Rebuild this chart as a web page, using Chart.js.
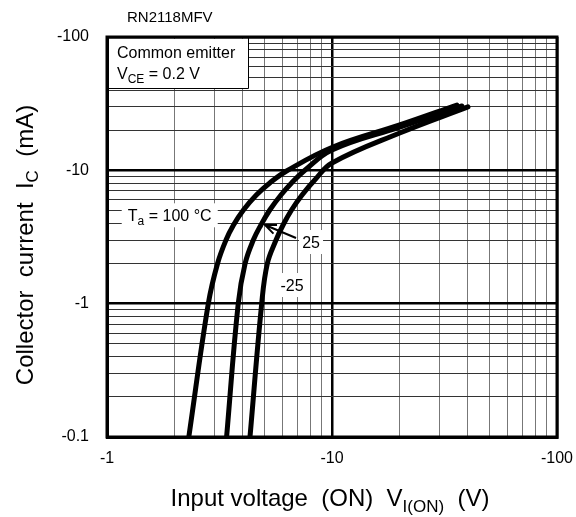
<!DOCTYPE html>
<html>
<head>
<meta charset="utf-8">
<script src="https://cdn.jsdelivr.net/npm/chart.js@4.4.0/dist/chart.umd.min.js"></script>
<style>
  html, body { margin: 0; padding: 0; background: #fff; }
  #wrap { width: 576px; height: 517px; }
</style>
</head>
<body>
<div id="wrap"><canvas id="chart" width="576" height="517"></canvas></div>
<script>
// values: |V_I(ON)| in V, |I_C| in mA (axes are negative)
const ta100V = [2.31, 2.82, 3.10, 3.38, 3.65, 4.04, 4.61, 5.29, 6.28, 10.1, 20, 35.9];
const ta100I = [0.1, 1.0, 2.0, 3.0, 3.89, 5.04, 6.53, 8.04, 9.89, 14.96, 21.9, 30.9];
const ta25V = [3.40, 3.83, 4.11, 4.47, 4.83, 5.29, 5.93, 6.61, 7.51, 10, 20, 37.8];
const ta25I = [0.1, 1.0, 2.0, 3.0, 3.89, 5.04, 6.53, 8.04, 9.89, 14.2, 21.1, 30.4];
const taM25V = [4.32, 4.87, 5.16, 5.64, 6.06, 6.61, 7.36, 8.38, 10, 20, 40.2];
const taM25I = [0.1, 1.0, 2.0, 3.0, 3.89, 5.04, 6.53, 8.46, 11.35, 19.05, 29.9];

const xTicks = [1, 2, 3, 4, 5, 6, 7, 8, 9, 10, 20, 30, 40, 50, 60, 70, 80, 90, 100];
const yTicks = [0.1, 0.2, 0.3, 0.4, 0.5, 0.6, 0.7, 0.8, 0.9, 1, 2, 3, 4, 5, 6, 7, 8, 9, 10, 20, 30, 40, 50, 60, 70, 80, 90, 100];
const xMajor = [1, 10, 100];
const xMajorLabels = ['-1', '-10', '-100'];
const yMajor = [0.1, 1, 10, 100];
const yMajorLabels = ['-0.1', '-1', '-10', '-100'];

const FONT = '"Liberation Sans", Arial, sans-serif';

function pts(xs, ys) {
  return xs.map((x, i) => ({ x: x, y: ys[i] }));
}

function curve(label, xs, ys) {
  return {
    label: label,
    data: pts(xs, ys),
    borderColor: '#000',
    borderWidth: 5,
    borderCapStyle: 'round',
    borderJoinStyle: 'round',
    pointRadius: 0,
    tension: 0.4,
    clip: 0
  };
}

// draw text made of several runs (normal + subscript)
function drawRuns(ctx, runs, x, y, align) {
  let total = 0;
  runs.forEach(r => {
    ctx.font = r.size + 'px ' + FONT;
    r.w = ctx.measureText(r.t).width;
    total += r.w;
  });
  let cx = align === 'center' ? x - total / 2 : x;
  ctx.textAlign = 'left';
  ctx.textBaseline = 'alphabetic';
  ctx.fillStyle = '#000';
  runs.forEach(r => {
    ctx.font = r.size + 'px ' + FONT;
    ctx.fillText(r.t, cx, y + (r.dy || 0));
    cx += r.w;
  });
  return total;
}

const annotations = {
  id: 'annotations',
  afterDatasetsDraw(chart) {
    const ctx = chart.ctx;
    const a = chart.chartArea;
    const xs = chart.scales.x, ys = chart.scales.y;
    ctx.save();

    // frame
    ctx.strokeStyle = '#000';
    ctx.lineWidth = 3;
    ctx.strokeRect(a.left, a.top, a.right - a.left, a.bottom - a.top);

    // condition box
    ctx.fillStyle = '#fff';
    ctx.fillRect(a.left + 2, a.top + 2, 139, 49);
    ctx.lineWidth = 1;
    ctx.beginPath();
    ctx.moveTo(a.left + 141.5, a.top);
    ctx.lineTo(a.left + 141.5, a.top + 51.5);
    ctx.lineTo(a.left, a.top + 51.5);
    ctx.stroke();
    drawRuns(ctx, [{ t: 'Common emitter', size: 16 }], a.left + 10, a.top + 21, 'left');
    drawRuns(ctx, [
      { t: 'V', size: 16 },
      { t: 'CE', size: 12, dy: 4 },
      { t: ' = 0.2 V', size: 16 }
    ], a.left + 10, a.top + 42, 'left');

    // Ta = 100 label
    let px = xs.getPixelForValue(1.9), py = ys.getPixelForValue(4.6);
    ctx.fillStyle = '#fff';
    ctx.fillRect(px - 48, py - 12, 96, 24);
    drawRuns(ctx, [
      { t: 'T', size: 16 },
      { t: 'a', size: 12, dy: 4 },
      { t: ' = 100 \u00B0C', size: 16 }
    ], px, py + 6, 'center');

    // 25 label + arrow
    px = xs.getPixelForValue(8.07); py = ys.getPixelForValue(2.9);
    ctx.fillStyle = '#fff';
    ctx.fillRect(px - 12, py - 12, 24, 24);
    drawRuns(ctx, [{ t: '25', size: 16 }], px, py + 6, 'center');
    const tx = xs.getPixelForValue(6.92), ty = ys.getPixelForValue(3.11);
    const hx = xs.getPixelForValue(5.04), hy = ys.getPixelForValue(3.89);
    ctx.strokeStyle = '#000';
    ctx.lineWidth = 2;
    ctx.beginPath();
    ctx.moveTo(tx, ty);
    ctx.lineTo(hx, hy);
    const ang = Math.atan2(ty - hy, tx - hx);
    ctx.moveTo(hx + 12 * Math.cos(ang + 0.4), hy + 12 * Math.sin(ang + 0.4));
    ctx.lineTo(hx, hy);
    ctx.lineTo(hx + 12 * Math.cos(ang - 0.4), hy + 12 * Math.sin(ang - 0.4));
    ctx.stroke();

    // -25 label
    px = xs.getPixelForValue(6.64); py = ys.getPixelForValue(1.38);
    ctx.fillStyle = '#fff';
    ctx.fillRect(px - 15, py - 12, 30, 24);
    drawRuns(ctx, [{ t: '-25', size: 16 }], px, py + 6, 'center');

    ctx.restore();
  },
  afterDraw(chart) {
    const ctx = chart.ctx;
    ctx.save();
    drawRuns(ctx, [{ t: 'RN2118MFV', size: 15 }], 127, 22, 'left');

    // x title
    drawRuns(ctx, [
      { t: 'Input voltage  (ON)  V', size: 24 },
      { t: 'I(ON)', size: 17, dy: 6 },
      { t: '  (V)', size: 24 }
    ], 330, 506, 'center');

    // y title
    ctx.translate(33, 245);
    ctx.rotate(-Math.PI / 2);
    drawRuns(ctx, [
      { t: 'Collector  current  I', size: 24 },
      { t: 'C', size: 17, dy: 5 },
      { t: '  (mA)', size: 24 }
    ], 0, 0, 'center');
    ctx.restore();
  }
};

new Chart(document.getElementById('chart'), {
  type: 'line',
  data: {
    datasets: [
      curve('Ta = 100', ta100V, ta100I),
      curve('Ta = 25', ta25V, ta25I),
      curve('Ta = -25', taM25V, taM25I)
    ]
  },
  options: {
    responsive: false,
    animation: false,
    layout: { padding: { top: 37, right: 19, left: 0, bottom: 0 } },
    plugins: {
      legend: { display: false },
      tooltip: { enabled: false }
    },
    scales: {
      x: {
        type: 'logarithmic',
        min: 1,
        max: 100,
        afterBuildTicks: s => { s.ticks = xTicks.map(v => ({ value: v })); },
        afterFit: s => { s.height = 80; s.paddingLeft = 0; s.paddingRight = 0; },
        ticks: {
          autoSkip: false,
          maxRotation: 0,
          padding: 12,
          color: '#000',
          font: { family: FONT, size: 16 },
          callback: v => {
            const i = xMajor.indexOf(v);
            return i >= 0 ? xMajorLabels[i] : '';
          }
        },
        grid: {
          drawTicks: false,
          color: c => xMajor.includes(c.tick && c.tick.value) ? '#000' : '#777',
          lineWidth: c => xMajor.includes(c.tick && c.tick.value) ? 2.5 : 1
        },
        border: { display: true, color: '#000', width: 3 }
      },
      y: {
        type: 'logarithmic',
        min: 0.1,
        max: 100,
        afterBuildTicks: s => { s.ticks = yTicks.map(v => ({ value: v })); },
        afterFit: s => { s.width = 107; s.paddingTop = 0; s.paddingBottom = 0; },
        ticks: {
          autoSkip: false,
          padding: 18,
          color: '#000',
          font: { family: FONT, size: 16 },
          callback: v => {
            const i = yMajor.indexOf(v);
            return i >= 0 ? yMajorLabels[i] : '';
          }
        },
        grid: {
          drawTicks: false,
          color: c => yMajor.includes(c.tick && c.tick.value) ? '#000' : '#333',
          lineWidth: c => yMajor.includes(c.tick && c.tick.value) ? 2.5 : 1
        },
        border: { display: true, color: '#000', width: 3 }
      }
    }
  },
  plugins: [annotations]
});
</script>
</body>
</html>
